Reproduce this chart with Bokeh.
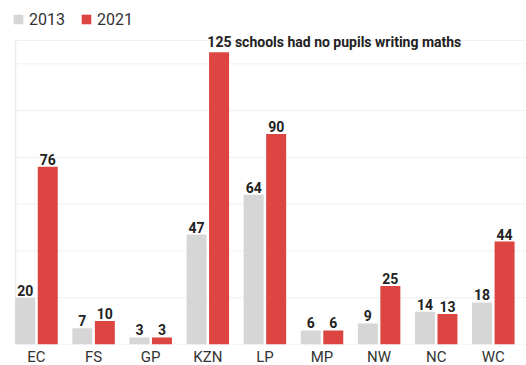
import numpy as np
from bokeh.plotting import figure
from bokeh.models import (ColumnDataSource, FixedTicker, Legend, LegendItem, Range1d)
from bokeh.core.properties import value
from bokeh.embed import file_html
from bokeh.resources import INLINE

provinces = ["EC", "FS", "GP", "KZN", "LP", "MP", "NW", "NC", "WC"]
v2013 = [20, 7, 3, 47, 64, 6, 9, 14, 18]
v2021 = [76, 10, 3, 125, 90, 6, 25, 13, 44]
series_names = ["2013", "2021"]
note = "125 schools had no pupils writing maths"
note_province = "KZN"
grid_ticks = [0, 20, 40, 60, 80, 100, 120, 130]

GRAY = "#d6d6d6"
RED = "#dc4541"
FONT = "Roboto"

idx = np.arange(len(provinces))
off = 0.197
bw = 0.35
X0, X1 = -0.6305, 8.581      # full-width frame
AX_LEFT = -0.368             # left edge of the chart area
Y1 = 147.1

labels21 = [("" if p == note_province else str(v)) for p, v in zip(provinces, v2021)]

src13 = ColumnDataSource(dict(x=idx - off, top=v2013, lab=[str(v) for v in v2013]))
src21 = ColumnDataSource(dict(x=idx + off, top=v2021, lab=labels21))

p = figure(frame_width=526, frame_height=344, output_backend="svg", toolbar_location=None,
           x_range=Range1d(X0, X1), y_range=Range1d(0, Y1),
           y_axis_location=None, min_border_left=0, min_border_right=0,
           min_border_top=0, min_border_bottom=0)
p.outline_line_color = None
p.xgrid.visible = False
p.ygrid.visible = False
p.background_fill_color = "white"
p.border_fill_color = "white"

p.segment(x0=AX_LEFT, y0=grid_ticks, x1=X1, y1=grid_ticks, line_color="#f0f0f0", line_width=1)
p.segment(x0=[AX_LEFT], y0=[0], x1=[AX_LEFT], y1=[max(grid_ticks)], line_color="#ececec", line_width=1.5)

r13 = p.vbar(x="x", top="top", width=bw, source=src13, fill_color=GRAY, line_color=None)
r21 = p.vbar(x="x", top="top", width=bw, source=src21, fill_color=RED, line_color=None)

for s in (src13, src21):
    p.text(x="x", y="top", text="lab", source=s, text_align="center", text_baseline="bottom",
           y_offset=-2, text_font=value(FONT), text_font_style="bold",
           text_font_size="14px", text_color="#222222")

k = provinces.index(note_province)
p.text(x=[k + off - bw / 2 - 0.03], y=[v2021[k]], text=[note], text_align="left",
       text_baseline="bottom", y_offset=-2, text_font=value(FONT), text_font_style="bold",
       text_font_size="14px", text_color="#222222")

xa = p.xaxis[0]
xa.ticker = FixedTicker(ticks=list(idx))
xa.major_label_overrides = {int(i): c for i, c in zip(idx, provinces)}
xa.axis_line_color = None
xa.major_tick_line_color = None
xa.minor_tick_line_color = None
xa.major_tick_out = 0
xa.major_tick_in = 0
xa.major_label_standoff = 3
xa.major_label_text_font = FONT
xa.major_label_text_font_size = "15px"
xa.major_label_text_color = "#333333"

legend = Legend(items=[LegendItem(label=series_names[0], renderers=[r13]),
                       LegendItem(label=series_names[1], renderers=[r21])],
                location=(12, 315), orientation="horizontal",
                glyph_width=12, glyph_height=12, label_standoff=5, spacing=15,
                padding=0, margin=0, border_line_color=None, background_fill_alpha=0,
                label_text_font=FONT, label_text_font_size="16px",
                label_text_color="#333333", label_height=20)
p.add_layout(legend, "center")

open("out.html", "w").write(file_html(p, INLINE))
